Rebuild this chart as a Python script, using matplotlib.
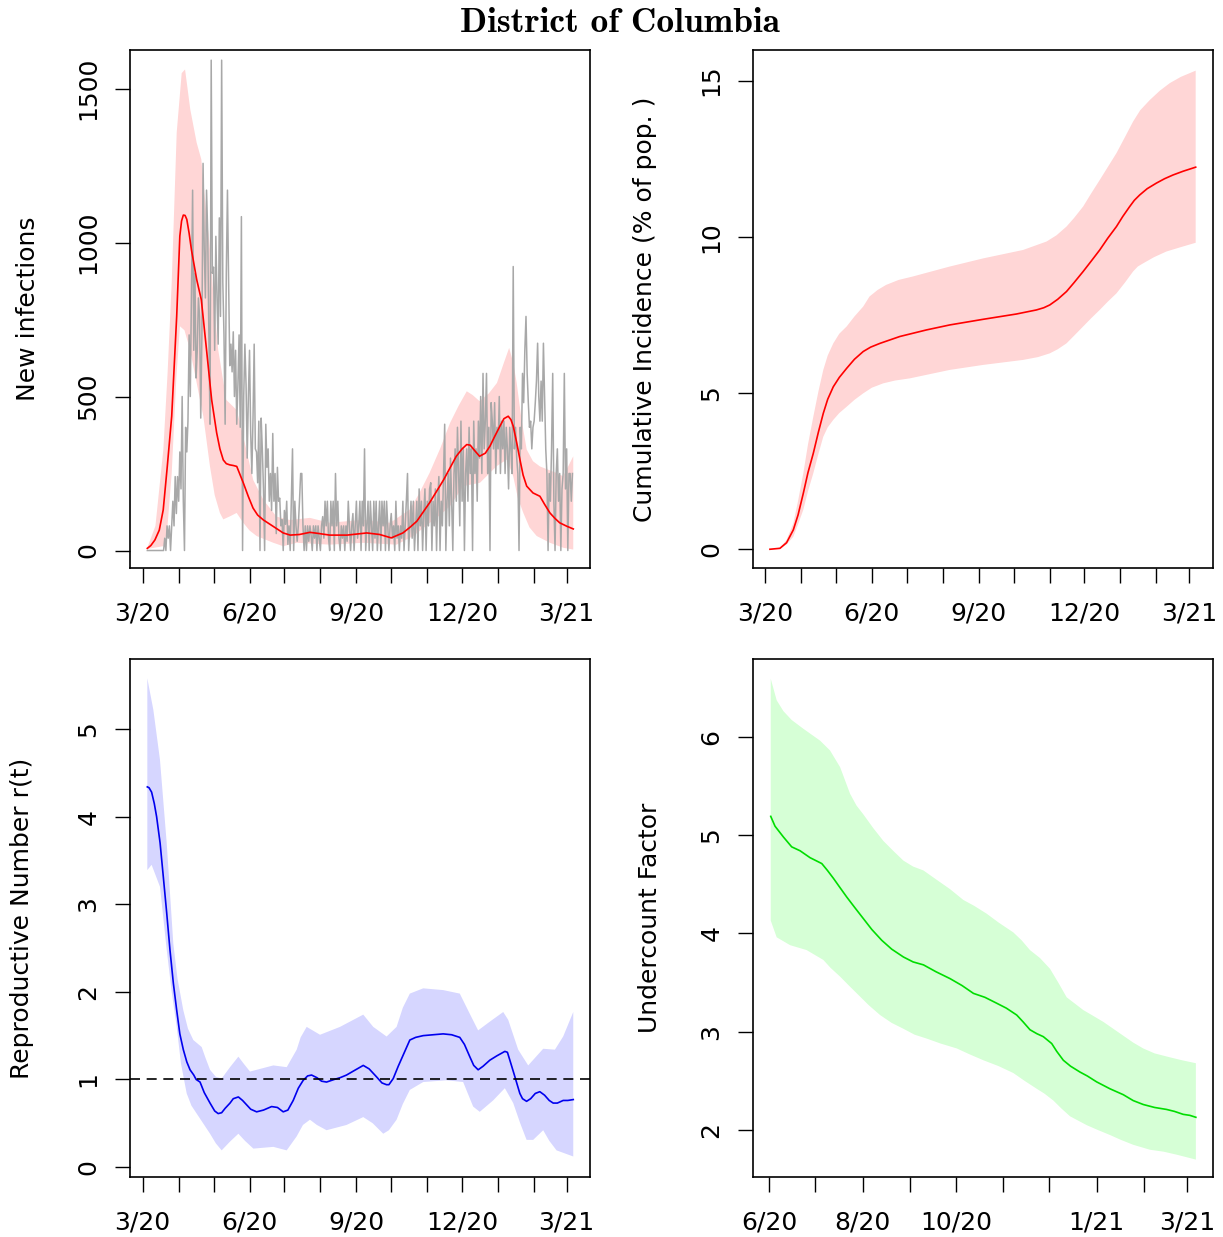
import numpy as np
import matplotlib
matplotlib.use('Agg')
import matplotlib.pyplot as plt

W, H = 1223, 1237
origin = np.datetime64('2020-03-01')

# days are counted from 2020-03-01
# --- new infections (top left)
gray_start = 4
gray_vals = [0] * 15 + [
    40, 0, 80, 40, 80, 0, 80, 160, 80, 240, 120, 240, 160, 320, 200, 500, 160, 0, 400, 320, 420,
    700, 500, 820, 1170, 650, 900, 560, 650, 820, 760, 430, 700, 1257, 980, 820, 1170, 1030, 700, 410, 1592,
    900, 920, 650, 1020, 820, 670, 1080, 760, 1592, 870, 700, 410, 900, 1170, 870, 600, 670, 580, 710, 500,
    650, 410, 540, 700, 400, 1084, 0, 500, 670, 540, 300, 500, 650, 380, 250, 430, 670, 330, 320, 220,
    420, 0, 430, 330, 200, 0, 410, 270, 330, 160, 250, 130, 380, 160, 250, 55, 270, 160, 170, 80,
    100, 0, 130, 85, 160, 20, 80, 0, 160, 330, 0, 160, 80, 30, 80, 160, 250, 250, 80, 0,
    80, 0, 80, 30, 80, 50, 0, 80, 40, 80, 0, 80, 40, 0, 80, 110, 40, 160, 80, 160,
    40, 0, 160, 80, 160, 0, 250, 80, 160, 40, 0, 80, 40, 80, 0, 80, 30, 160, 80, 0,
    80, 120, 0, 80, 160, 40, 80, 160, 0, 160, 80, 330, 0, 80, 160, 0, 160, 80, 0, 160,
    40, 160, 0, 80, 160, 0, 160, 80, 160, 0, 160, 80, 0, 80, 120, 40, 80, 0, 160, 40,
    80, 0, 80, 40, 160, 0, 80, 160, 250, 0, 80, 160, 40, 160, 0, 80, 160, 0, 200, 80,
    160, 0, 120, 200, 0, 160, 80, 200, 220, 0, 160, 80, 200, 0, 160, 240, 0, 160, 80, 250,
    410, 0, 160, 250, 80, 300, 160, 0, 250, 330, 160, 400, 250, 80, 420, 160, 330, 0, 250, 330,
    160, 400, 250, 330, 0, 420, 250, 330, 160, 420, 300, 500, 250, 575, 330, 420, 575, 250, 400, 0,
    480, 420, 330, 480, 250, 400, 330, 500, 250, 420, 330, 420, 250, 400, 330, 200, 400, 330, 250, 922,
    330, 400, 300, 250, 0, 400, 330, 575, 480, 650, 760, 575, 480, 400, 420, 330, 400, 420, 480, 550,
    673, 500, 420, 550, 420, 673, 500, 330, 250, 0, 250, 160, 330, 575, 160, 0, 250, 330, 160, 250,
    0, 200, 250, 575, 200, 330, 0, 250, 250, 160, 250]

inf_days = [4, 7, 10.5, 14.3, 17.7, 21.2, 25, 29.3, 32, 33.5, 35, 36.5, 38, 40, 42, 46.5, 50.5, 55,
            59.4, 63.7, 66.5, 69.4, 72, 75, 78, 81, 86.6, 91, 95, 99, 104, 112.5, 121, 127, 135,
            144, 152, 161, 176, 193, 204, 214, 224, 230, 236, 247, 259, 270, 275, 279, 282, 285,
            290, 295, 299, 303, 307.6, 311, 314.7, 317, 319, 322, 324.8, 327.5, 330.6, 336, 342,
            346, 350.6, 355, 359, 365, 370.7]
inf_mean = [7, 16, 34, 66, 132, 273, 436, 761, 1021, 1070, 1089, 1088, 1075, 1030, 976, 880, 814,
            651, 489, 382, 330, 294, 282, 278, 276, 273, 220, 175, 138, 115, 99, 78, 57, 50, 52,
            59, 55, 50, 50, 57, 52, 41, 57, 75, 95, 155, 229, 306, 330, 344, 342, 328, 306, 316,
            339, 370, 404, 428, 436, 425, 404, 350, 295, 245, 209, 187, 176, 150, 122, 104, 90,
            79, 70]
inf_up_days = [4, 11, 17.8, 21.5, 25, 29.3, 33.6, 36.5, 41, 46.5, 50.5, 54, 58, 61.5, 65, 72, 81,
               88, 95.2, 104, 115.3, 126.8, 144, 161, 190, 213, 230, 238, 247, 256, 264.6, 272,
               279, 284, 290, 298, 305, 311, 315.5, 319, 322, 326, 330.6, 336, 342, 356, 362, 370.7]
inf_up = [9, 80, 328, 580, 870, 1357, 1550, 1562, 1432, 1324, 1270, 1130, 977, 800, 653, 489, 456,
          348, 229, 164, 110, 99, 106, 90, 100, 90, 133, 185, 252, 330, 414, 470, 517, 505, 485,
          510, 544, 610, 658, 610, 544, 430, 328, 290, 273, 252, 241, 306]
inf_lo_days = [4, 17.8, 21, 25, 29, 32.1, 36, 40.7, 46.5, 52.2, 57.9, 62, 66.5, 69.4, 75.2, 80.9,
               86.6, 92, 98.1, 112.5, 121, 132.6, 161.2, 189.9, 218.6, 233, 247.3, 256, 264.6,
               276, 290.4, 304.8, 313.4, 319, 323, 327.7, 333, 339.2, 350.6, 362, 370.7]
inf_lo = [5, 14, 60, 250, 560, 728, 715, 653, 544, 436, 274, 180, 122, 101, 111, 122, 90, 65, 47,
          25, 14, 25, 19, 25, 19, 47, 90, 115, 144, 209, 220, 274, 295, 241, 170, 122, 75, 47, 25,
          9, 3]

# --- cumulative incidence (top right)
cum_days = [4.3, 12.9, 18.6, 24.4, 28.5, 33, 37, 41.6, 46, 50.2, 54, 58.8, 64, 70.3, 77, 84.6, 91,
            99, 116.1, 139, 159.1, 187.8, 216.5, 233.7, 240, 245.2, 252, 259.6, 266, 273.9, 281,
            288.2, 295, 302.6, 308, 314, 318, 322.6, 329, 337, 344, 351.3, 360, 370.8]
cum_mean = [0, 0.03, 0.21, 0.62, 1.1, 1.79, 2.45, 3.07, 3.75, 4.35, 4.8, 5.2, 5.5, 5.79, 6.08, 6.33,
            6.47, 6.59, 6.81, 7.02, 7.18, 7.36, 7.53, 7.66, 7.73, 7.82, 8.0, 8.25, 8.53, 8.89, 9.23,
            9.58, 9.95, 10.33, 10.65, 10.97, 11.17, 11.34, 11.54, 11.72, 11.86, 11.98, 12.1, 12.23]
cum_up_days = [4.3, 12.9, 18.6, 24.4, 28.5, 33, 37, 41.6, 46, 50.2, 54, 58.8, 64, 70.3, 77, 84.6,
               90, 97, 104.2, 115, 127.2, 159.1, 187.8, 222.2, 242.4, 251, 259.6, 266, 273.9, 281,
               288.2, 302.6, 310, 316.9, 323, 331.3, 340, 348.5, 358, 370.8]
cum_up = [0, 0.05, 0.3, 0.83, 1.55, 2.43, 3.35, 4.24, 5.05, 5.74, 6.2, 6.59, 6.9, 7.13, 7.45, 7.77,
          8.09, 8.3, 8.46, 8.62, 8.73, 9.05, 9.31, 9.58, 9.85, 10.05, 10.33, 10.6, 10.97, 11.4,
          11.82, 12.68, 13.2, 13.69, 14.05, 14.38, 14.68, 14.92, 15.12, 15.32]
cum_lo_days = [4.3, 12.9, 18.6, 24.4, 28.5, 33, 37, 41.6, 46, 50.2, 54, 58.8, 64, 70.3, 77, 84.6,
               92, 101.8, 112, 124.8, 159.1, 187.8, 222.2, 235, 245.2, 252, 259.6, 266, 273.9, 281,
               288.2, 295, 302.6, 310, 316.9, 321, 325.5, 335, 345.6, 358, 370.8]
cum_lo = [0, 0.02, 0.15, 0.4, 0.8, 1.26, 1.85, 2.43, 3.05, 3.6, 3.9, 4.14, 4.36, 4.56, 4.78, 4.99,
          5.17, 5.31, 5.4, 5.47, 5.74, 5.9, 6.06, 6.15, 6.27, 6.4, 6.59, 6.83, 7.13, 7.4, 7.66, 7.92,
          8.19, 8.54, 8.89, 9.05, 9.15, 9.35, 9.53, 9.67, 9.81]

# --- reproductive number (bottom left)
r_days = [4, 5.5, 7.7, 10, 12, 15, 17.8, 20.7, 23.5, 26.4, 29.3, 32, 35, 38, 40.8, 44, 46, 49.4,
          53, 58, 62, 65, 68, 71, 75.2, 78, 82.4, 86, 89.5, 93, 98.1, 104, 111, 116, 121, 125,
          129.6, 134, 138.2, 142, 145.4, 150, 154, 158.3, 165, 170, 175.5, 182, 189.9, 195, 201.3,
          206, 209.9, 212, 215.7, 220, 225, 230, 235, 241.5, 250, 258.7, 266, 273, 277, 281.6,
          285, 288.8, 293, 298.9, 305, 311.8, 314, 316.1, 320, 324.7, 327, 330.5, 334, 338, 341.9,
          346, 350, 353.4, 357, 362, 366, 370.7]
r_mean = [4.34, 4.33, 4.28, 4.15, 4.0, 3.7, 3.31, 2.9, 2.48, 2.1, 1.79, 1.52, 1.34, 1.2, 1.11, 1.05,
          1.0, 0.97, 0.85, 0.73, 0.64, 0.61, 0.62, 0.67, 0.73, 0.78, 0.80, 0.76, 0.71, 0.66, 0.63,
          0.65, 0.69, 0.68, 0.63, 0.65, 0.76, 0.9, 0.99, 1.04, 1.05, 1.02, 0.98, 0.97, 1.0, 1.02,
          1.05, 1.1, 1.16, 1.12, 1.03, 0.96, 0.94, 0.94, 1.01, 1.15, 1.3, 1.45, 1.48, 1.50, 1.51,
          1.52, 1.51, 1.48, 1.4, 1.26, 1.16, 1.11, 1.15, 1.22, 1.27, 1.32, 1.31, 1.22, 1.05, 0.84,
          0.78, 0.75, 0.78, 0.84, 0.86, 0.82, 0.76, 0.73, 0.73, 0.76, 0.76, 0.77]
r_up_days = [4, 9.2, 14.9, 20.7, 26.4, 30, 35, 39, 43.6, 50.8, 54, 58, 63, 68, 75.2, 82.4, 87,
             92.4, 103.9, 112.5, 124, 132.6, 136, 141.2, 152.7, 169.9, 189.9, 198.5, 210, 218.6,
             224, 230, 241.5, 258.7, 273, 281.6, 288.8, 298.9, 310.4, 314.7, 323.3, 331.9, 338,
             344.8, 354.9, 362, 370.7]
r_up = [5.58, 5.22, 4.65, 3.70, 2.55, 2.15, 1.79, 1.58, 1.45, 1.37, 1.25, 1.11, 1.03, 1.01, 1.14,
        1.26, 1.18, 1.09, 1.13, 1.16, 1.14, 1.34, 1.48, 1.60, 1.51, 1.60, 1.74, 1.60, 1.49, 1.60,
        1.82, 1.98, 2.04, 2.02, 1.98, 1.75, 1.56, 1.66, 1.77, 1.68, 1.34, 1.16, 1.25, 1.35, 1.34,
        1.49, 1.77]
r_lo_days = [4, 7.7, 14.9, 20.7, 25, 29.3, 33, 37.9, 42, 46.5, 52, 58, 63, 68, 75.2, 82.4, 88,
             95.3, 112.5, 124, 132.6, 138, 144, 150, 158.3, 175.5, 189.9, 198, 207.1, 212, 218.6,
             224, 230, 241.5, 261.5, 275.9, 284.5, 290.2, 301.7, 311.8, 319, 325, 330.5, 336.2,
             344.8, 350, 356.3, 370.7]
r_lo = [3.39, 3.45, 3.20, 2.48, 2.0, 1.60, 1.18, 0.84, 0.7, 0.61, 0.5, 0.38, 0.27, 0.19, 0.29, 0.38,
        0.3, 0.21, 0.23, 0.19, 0.35, 0.48, 0.54, 0.48, 0.42, 0.48, 0.57, 0.5, 0.38, 0.42, 0.54,
        0.72, 0.88, 0.97, 0.99, 0.97, 0.69, 0.63, 0.76, 0.90, 0.73, 0.5, 0.31, 0.31, 0.42, 0.3,
        0.19, 0.12]

# --- undercount factor (bottom right), days counted from 2020-06-01
u_offset = 92
u_days = [0.9, 3.7, 9.2, 14.6, 20.1, 26.6, 34.3, 38, 41.9, 46, 50.6, 56, 61.5, 67, 73.5, 80, 87.7,
          94, 100.8, 109, 118.2, 126, 133.5, 141, 148.7, 155, 161.8, 166, 170.5, 175, 179.2,
          184.7, 188, 192.3, 197, 203.2, 208, 214.1, 222.8, 231.5, 238, 244.6, 252, 259.8, 265,
          270.7, 275, 279]
u_mean = [5.19, 5.09, 4.98, 4.88, 4.84, 4.77, 4.71, 4.64, 4.56, 4.47, 4.37, 4.26, 4.15, 4.04, 3.93,
          3.84, 3.76, 3.71, 3.68, 3.61, 3.54, 3.47, 3.39, 3.35, 3.29, 3.24, 3.17, 3.1, 3.02, 2.98,
          2.95, 2.88, 2.8, 2.71, 2.65, 2.59, 2.55, 2.49, 2.42, 2.36, 2.3, 2.26, 2.23, 2.21, 2.19,
          2.16, 2.15, 2.13]
u_up_days = [0.9, 4.8, 9.2, 14.6, 22.3, 33.2, 39.7, 46.3, 52.8, 57, 61.5, 68, 74.6, 81, 87.7, 94,
             100.8, 109, 118.2, 126.9, 134, 142.2, 150, 159.6, 165, 170.5, 177, 183.6, 189, 194.5,
             205.4, 212, 218.5, 225, 231.5, 238, 244.6, 252, 262, 270, 279]
u_up = [6.59, 6.37, 6.26, 6.17, 6.08, 5.96, 5.86, 5.69, 5.42, 5.3, 5.21, 5.07, 4.94, 4.84, 4.74,
        4.68, 4.64, 4.55, 4.45, 4.34, 4.28, 4.20, 4.11, 4.01, 3.93, 3.83, 3.75, 3.64, 3.5, 3.35,
        3.22, 3.16, 3.10, 3.03, 2.96, 2.89, 2.83, 2.78, 2.74, 2.71, 2.68]
u_lo_days = [0.9, 4.8, 13.6, 24.4, 35.3, 40, 46.3, 52, 57.2, 65, 72.4, 80, 87.7, 95, 103, 112,
             122.6, 131, 140, 150, 159.6, 167, 174.9, 180, 185.8, 191, 196.7, 207.6, 215, 222.8,
             230, 238.1, 249, 258, 266.4, 279]
u_lo = [4.13, 3.96, 3.88, 3.83, 3.73, 3.65, 3.56, 3.47, 3.39, 3.27, 3.17, 3.09, 3.03, 2.97, 2.93,
        2.88, 2.83, 2.77, 2.71, 2.65, 2.58, 2.5, 2.42, 2.37, 2.30, 2.22, 2.14, 2.05, 2.0, 1.95,
        1.9, 1.85, 1.80, 1.78, 1.75, 1.70]

fig = plt.figure(figsize=(W / 100, H / 100), dpi=100)


def panel(left, top, right, bottom):
    ax = fig.add_axes([left / W, 1 - bottom / H, (right - left) / W, (bottom - top) / H])
    for s in ax.spines.values():
        s.set_linewidth(1.2)
    ax.tick_params(length=10.8, width=1.0, labelsize=18, pad=13.5)
    ax.tick_params(axis='y', pad=10.5)
    return ax


def y_axis(ax, ticks):
    ax.set_yticks(ticks)
    ax.set_yticklabels([str(t) for t in ticks], rotation=90, va='center')


def month_axis(ax, first, last, shown):
    months = np.arange(np.datetime64(first), np.datetime64(last) + 1)
    days = (months.astype('datetime64[D]') - origin).astype(int)
    labels = []
    for m in months:
        n = m.astype(int)
        mo, yr = n % 12 + 1, (n // 12 + 1970) % 100
        lab = f'{mo}/{yr}'
        labels.append(lab if lab in shown else '')
    ax.set_xticks(days)
    ax.set_xticklabels(labels)


def band(ax, xu, yu, xl, yl, color, alpha):
    xs = np.concatenate([np.array(xu, float), np.array(xl, float)[::-1]])
    ys = np.concatenate([np.array(yu, float), np.array(yl, float)[::-1]])
    ax.fill(xs, ys, color=color, alpha=alpha, lw=0)


main_shown = ['3/20', '6/20', '9/20', '12/20', '3/21']

# top left
ax = panel(130, 50, 590, 568)
ax.plot(np.arange(gray_start, gray_start + len(gray_vals)), gray_vals, color='#a8a8a8', lw=1.1)
band(ax, inf_up_days, inf_up, inf_lo_days, inf_lo, '#ff0000', 0.16)
ax.plot(inf_days, inf_mean, color='#ff0000', lw=1.2)
ax.set_xlim(-10.9, 385.1)
ax.set_ylim(-56.8, 1625)
y_axis(ax, [0, 500, 1000, 1500])
month_axis(ax, '2020-03', '2021-03', main_shown)

# top right
ax = panel(753, 50, 1213, 568)
band(ax, cum_up_days, cum_up, cum_lo_days, cum_lo, '#ff0000', 0.16)
ax.plot(cum_days, cum_mean, color='#ff0000', lw=1.2)
ax.set_xlim(-10.3, 385.7)
ax.set_ylim(-0.6, 15.98)
y_axis(ax, [0, 5, 10, 15])
month_axis(ax, '2020-03', '2021-03', main_shown)

# bottom left
ax = panel(130, 659, 590, 1177)
band(ax, r_up_days, r_up, r_lo_days, r_lo, '#0000ff', 0.16)
ax.plot(r_days, r_mean, color='#0000ee', lw=1.2)
ax.axhline(1, color='black', lw=1.2, ls=(0, (6, 4)))
ax.set_xlim(-10.9, 385.1)
ax.set_ylim(-0.114, 5.8)
y_axis(ax, [0, 1, 2, 3, 4, 5])
month_axis(ax, '2020-03', '2021-03', main_shown)

# bottom right
ax = panel(753, 659, 1213, 1177)
band(ax, np.array(u_up_days) + u_offset, u_up, np.array(u_lo_days) + u_offset, u_lo, '#00ff00', 0.16)
ax.plot(np.array(u_days) + u_offset, u_mean, color='#00dd00', lw=1.2)
ax.set_xlim(81.3, 382.2)
ax.set_ylim(1.523, 6.79)
y_axis(ax, [2, 3, 4, 5, 6])
month_axis(ax, '2020-06', '2021-03', ['6/20', '8/20', '10/20', '1/21', '3/21'])

ylabels = [('New infections', 28, 309), ('Cumulative Incidence (% of pop. )', 645, 309),
           ('Reproductive Number r(t)', 22, 918), ('Undercount Factor', 650, 918)]
for text, x, y in ylabels:
    fig.text(x / W, 1 - y / H, text, rotation=90, ha='center', va='center', fontsize=18)

fig.text(620 / W, 1 - 23 / H, 'District of Columbia', family='cmb10', fontsize=25.5,
         ha='center', va='center')

fig.savefig('out.png', dpi=100)
